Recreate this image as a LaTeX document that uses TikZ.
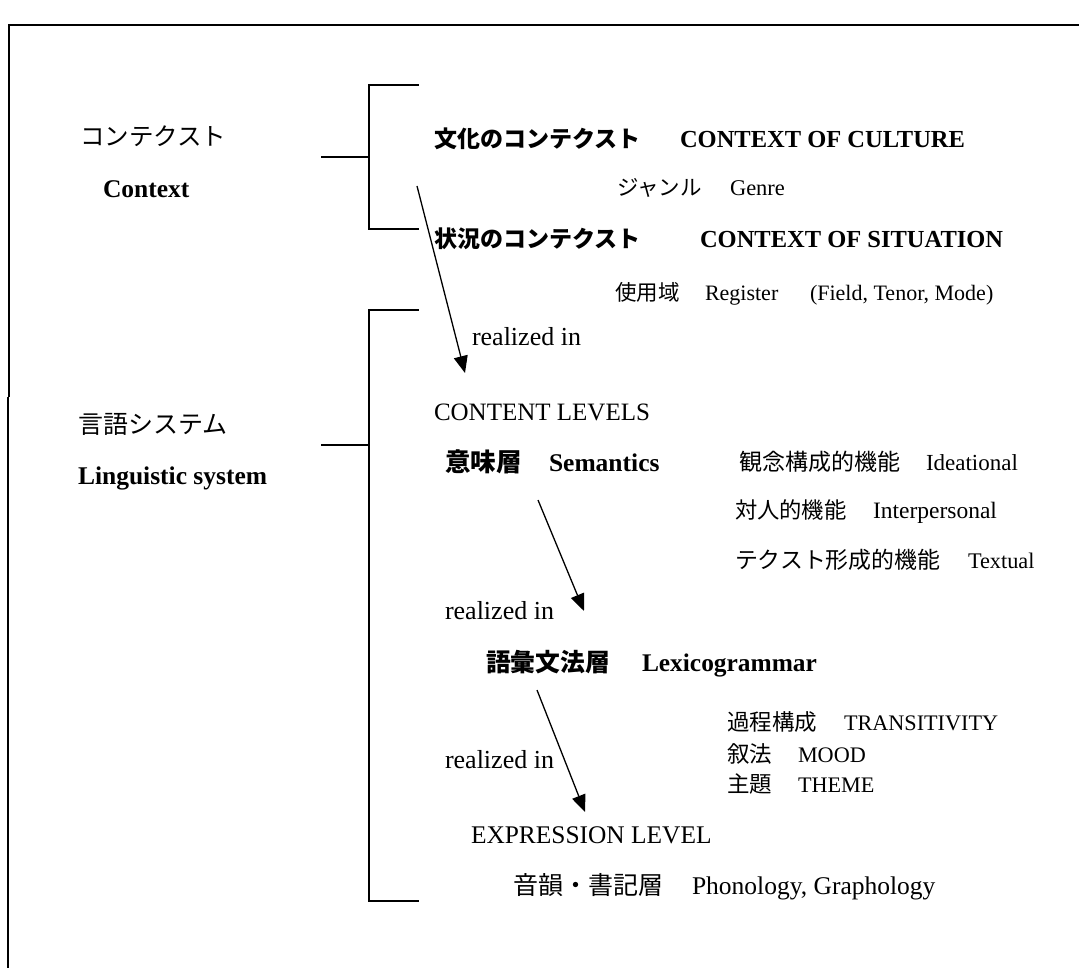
\documentclass[tikz,border=0pt]{standalone}
\usepackage{fontspec}
\setmainfont{Liberation Serif}
\newfontfamily\jp{Noto Sans CJK JP}
\usetikzlibrary{arrows.meta}
\newcommand\myfs[1]{\fontsize{#1}{#1}\selectfont}
\tikzset{
  txt/.style={anchor=base west, inner sep=0pt, outer sep=0pt},
  brline/.style={line width=1.7pt, line cap=rect},
  frameline/.style={line width=2.2pt},
  realarrow/.style={line width=1.3pt, -{Triangle[length=17pt,width=14pt]}}
}
\begin{document}
\begin{tikzpicture}[x=1pt,y=-1pt]
\useasboundingbox (0,0) rectangle (1079,968);
% frame
\coordinate (ftr) at (1079,25);
\coordinate (ftl) at (8,25);
\coordinate (fm1) at (9,397);
\coordinate (fm2) at (8,397);
\coordinate (fbl) at (8,968);
\draw[frameline] (ftr) -- (ftl);
\draw[line width=2.4pt] (9,25) -- (fm1);
\draw[line width=1.6pt] (fm2) -- (fbl);

% left labels
\node[txt] (ctxjp) at (80,146) {\jp\myfs{24.5}コンテクスト};
\node[txt] (ctxen) at (103,198) {\bfseries\myfs{25.5}Context};
\node[txt] (lsjp) at (78,433) {\jp\myfs{25}言語システム};
\node[txt] (lsen) at (78,484) {\bfseries\myfs{25.5}Linguistic system};

% bracket 1
\coordinate (b1t) at (418,85);
\coordinate (b1b) at (418,229);
\coordinate (b1s) at (322,157);
\coordinate (b1v) at (369,157);
\draw[brline] (b1t) -| (369,229) -- (b1b);
\draw[brline] (b1s) -- (b1v);

% bracket 2
\coordinate (b2t) at (418,310);
\coordinate (b2b) at (418,901);
\coordinate (b2s) at (322,445);
\coordinate (b2v) at (369,445);
\draw[brline] (b2t) -| (369,901) -- (b2b);
\draw[brline] (b2s) -- (b2v);

% context texts
\node[txt] (culjp) at (434,148) {\jp\bfseries\myfs{23}文化のコンテクスト};
\node[txt] (culen) at (680,148) {\bfseries\myfs{24.5}CONTEXT OF CULTURE};
\node[txt] (genjp) at (617,195.5) {\jp\myfs{21.5}ジャンル};
\node[txt] (genen) at (730,195.5) {\myfs{22.5}Genre};
\node[txt] (sitjp) at (434,248) {\jp\bfseries\myfs{23}状況のコンテクスト};
\node[txt] (siten) at (700,248) {\bfseries\myfs{24.5}CONTEXT OF SITUATION};
\node[txt] (regjp) at (615,300.5) {\jp\myfs{21.5}使用域};
\node[txt] (regen) at (705,300.5) {\myfs{22}Register};
\node[txt] (regfm) at (810,300.5) {\myfs{22}(Field, Tenor, Mode)};
\node[txt] (real1) at (472,345) {\myfs{26}realized in};

% content levels
\node[txt] (cont) at (434,420.7) {\myfs{25}CONTENT LEVELS};
\node[txt] (semjp) at (445,471) {\jp\bfseries\myfs{25.5}意味層};
\node[txt] (semen) at (549,471) {\bfseries\myfs{25.5}Semantics};
\node[txt] (idejp) at (739,470) {\jp\myfs{23}観念構成的機能};
\node[txt] (ideen) at (926,470) {\myfs{23}Ideational};
\node[txt] (intjp) at (735,518) {\jp\myfs{22.3}対人的機能};
\node[txt] (inten) at (873,518) {\myfs{23.5}Interpersonal};
\node[txt] (texjp) at (735,568) {\jp\myfs{22.9}テクスト形成的機能};
\node[txt] (texen) at (968,568) {\myfs{22.3}Textual};
\node[txt] (real2) at (445,619) {\myfs{26}realized in};

\node[txt] (lexjp) at (486,671) {\jp\bfseries\myfs{24.8}語彙文法層};
\node[txt] (lexen) at (642,671) {\bfseries\myfs{25.4}Lexicogrammar};
\node[txt] (trajp) at (727,730) {\jp\myfs{22.5}過程構成};
\node[txt] (traen) at (844,730) {\myfs{22.2}TRANSITIVITY};
\node[txt] (moojp) at (727,762) {\jp\myfs{22.5}叙法};
\node[txt] (mooen) at (798,762) {\myfs{22.2}MOOD};
\node[txt] (thejp) at (727,792) {\jp\myfs{22.5}主題};
\node[txt] (theen) at (798,792) {\myfs{22.2}THEME};
\node[txt] (real3) at (445,768) {\myfs{26}realized in};

\node[txt] (exp) at (471,843) {\myfs{25.4}EXPRESSION LEVEL};
\node[txt] (phojp) at (513,894) {\jp\myfs{25}音韻・書記層};
\node[txt] (phoen) at (692,894) {\myfs{25.5}Phonology, Graphology};

% arrows
\coordinate (a1s) at (417,186);
\coordinate (a1e) at (465,373);
\coordinate (a2s) at (538,500);
\coordinate (a2e) at (584,611);
\coordinate (a3s) at (537,690);
\coordinate (a3e) at (585,812);
\draw[realarrow] (a1s) -- (a1e);
\draw[realarrow] (a2s) -- (a2e);
\draw[realarrow] (a3s) -- (a3e);
\end{tikzpicture}
\end{document}
